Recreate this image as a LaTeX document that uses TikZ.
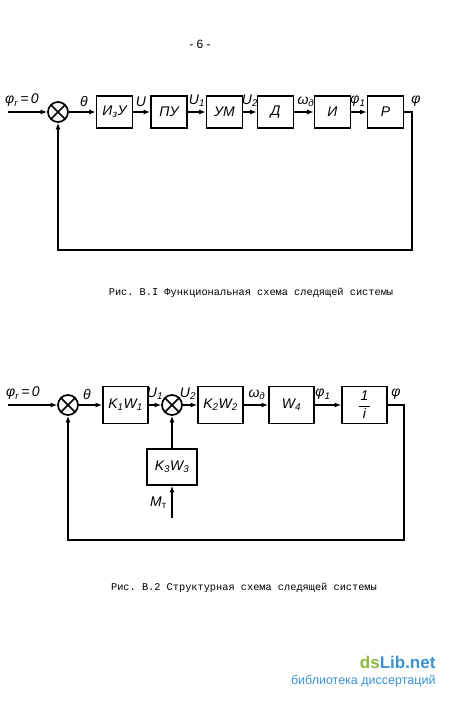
\documentclass[tikz,border=0pt]{standalone}
\usepackage{fontspec}
\setmainfont{Liberation Sans}
\setmonofont{Liberation Mono}
\usetikzlibrary{arrows.meta}
\definecolor{libgreen}{HTML}{8DB53C}
\definecolor{libblue}{HTML}{3A93CF}

\begin{document}
\begin{tikzpicture}[x=1pt, y=1pt,
    block/.style={draw, line width=1.7pt, minimum width=36pt, minimum height=32pt, inner sep=0pt, font=\itshape\fontsize{14}{14}\selectfont},
    wideblock/.style={block, minimum width=45pt, minimum height=37pt},
    sumj/.style={draw, circle, line width=1.7pt, minimum size=20pt, inner sep=0pt,
        path picture={\draw[line width=1.7pt] (path picture bounding box.north west) -- (path picture bounding box.south east)
            (path picture bounding box.north east) -- (path picture bounding box.south west);}},
    sig/.style={-{Latex[length=6.5pt, width=5pt]}, line width=1.5pt},
    lbl/.style={anchor=south, inner sep=0pt, font=\itshape\fontsize{14}{14}\selectfont},
    caption/.style={font=\ttfamily\fontsize{10.3}{12}\selectfont}
  ]
  \useasboundingbox (0,0) rectangle (450,701);

  \node[font=\fontsize{12}{14}\selectfont] (page) at (200,657) {- 6 -};

  % functional scheme
  \node[sumj] (s1) at (58,589) {};
  \node[block] (izu) at (114.5,589) {И\textsubscript{з}У};
  \node[block] (pu) at (169,589) {ПУ};
  \node[block] (um) at (224.5,589) {УМ};
  \node[block] (dv) at (275.5,589) {Д};
  \node[block] (int) at (332.5,589) {И};
  \node[block] (red) at (385.5,589) {Р};
  \coordinate (in1) at (8,589);
  \coordinate (fb1) at (412,451);
  \draw[sig] (in1) -- (s1);
  \draw[sig] (s1) -- (izu);
  \draw[sig] (izu) -- (pu);
  \draw[sig] (pu) -- (um);
  \draw[sig] (um) -- (dv);
  \draw[sig] (dv) -- (int);
  \draw[sig] (int) -- (red);
  \draw[sig] (red.east) -| (fb1) -| (s1.south);
  \node[lbl] (phir1) at (22,594) {φ\textsubscript{r}\,=\,0};
  \node[lbl] (theta1) at (84,594) {θ};
  \node[lbl] (u) at (141,594) {U};
  \node[lbl] (u1) at (197,594) {U\textsubscript{1}};
  \node[lbl] (u2) at (250,594) {U\textsubscript{2}};
  \node[lbl] (om1) at (306,594) {ω\textsubscript{д}};
  \node[lbl] (phi11) at (358,594) {φ\textsubscript{1}};
  \node[lbl] (phi1) at (416,594) {φ};
  \node[caption] (cap1) at (251,408) {Рис. В.I Функциональная схема следящей системы};

  % structural scheme
  \node[sumj] (s2) at (68,296) {};
  \node[wideblock] (k1) at (125.5,296) {K\textsubscript{1}W\textsubscript{1}};
  \node[sumj] (s3) at (172,296) {};
  \node[wideblock] (k2) at (220.5,296) {K\textsubscript{2}W\textsubscript{2}};
  \node[wideblock] (w4) at (291.5,296) {W\textsubscript{4}};
  \node[wideblock, align=center] (gear) at (364.5,296) {1\\[-5pt]\rule[3pt]{11pt}{1.2pt}\\[-5pt]i};
  \node[wideblock, minimum width=50pt, minimum height=36pt] (k3) at (172,234) {K\textsubscript{3}W\textsubscript{3}};
  \coordinate (in2) at (8,296);
  \coordinate (mt) at (172,183);
  \coordinate (fb2) at (404,161);
  \draw[sig] (in2) -- (s2);
  \draw[sig] (s2) -- (k1);
  \draw[sig] (k1) -- (s3);
  \draw[sig] (s3) -- (k2);
  \draw[sig] (k2) -- (w4);
  \draw[sig] (w4) -- (gear);
  \draw[sig] (mt) -- (k3);
  \draw[sig] (k3) -- (s3);
  \draw[sig] (gear.east) -| (fb2) -| (s2.south);
  \node[lbl] (phir2) at (23,301) {φ\textsubscript{r}\,=\,0};
  \node[lbl] (theta2) at (87,301) {θ};
  \node[lbl] (v1) at (155,301) {U\textsubscript{1}};
  \node[lbl] (v2) at (188,301) {U\textsubscript{2}};
  \node[lbl] (om2) at (257,301) {ω\textsubscript{д}};
  \node[lbl] (phi12) at (323,301) {φ\textsubscript{1}};
  \node[lbl] (phi2) at (396,301) {φ};
  \node[lbl, anchor=east] (mtl) at (167,198) {M\textsubscript{\upshape т}};
  \node[caption] (cap2) at (244,113) {Рис. В.2 Структурная схема следящей системы};

  % watermark
  \node[anchor=east, font=\bfseries\fontsize{17}{17}\selectfont] (wm) at (439,39) {\textcolor{libgreen}{ds}\textcolor{libblue}{Lib.net}};
  \node[anchor=east, text=libblue, font=\fontsize{12.5}{13}\selectfont] (wmsub) at (439,20) {библиотека диссертаций};
\end{tikzpicture}
\end{document}
